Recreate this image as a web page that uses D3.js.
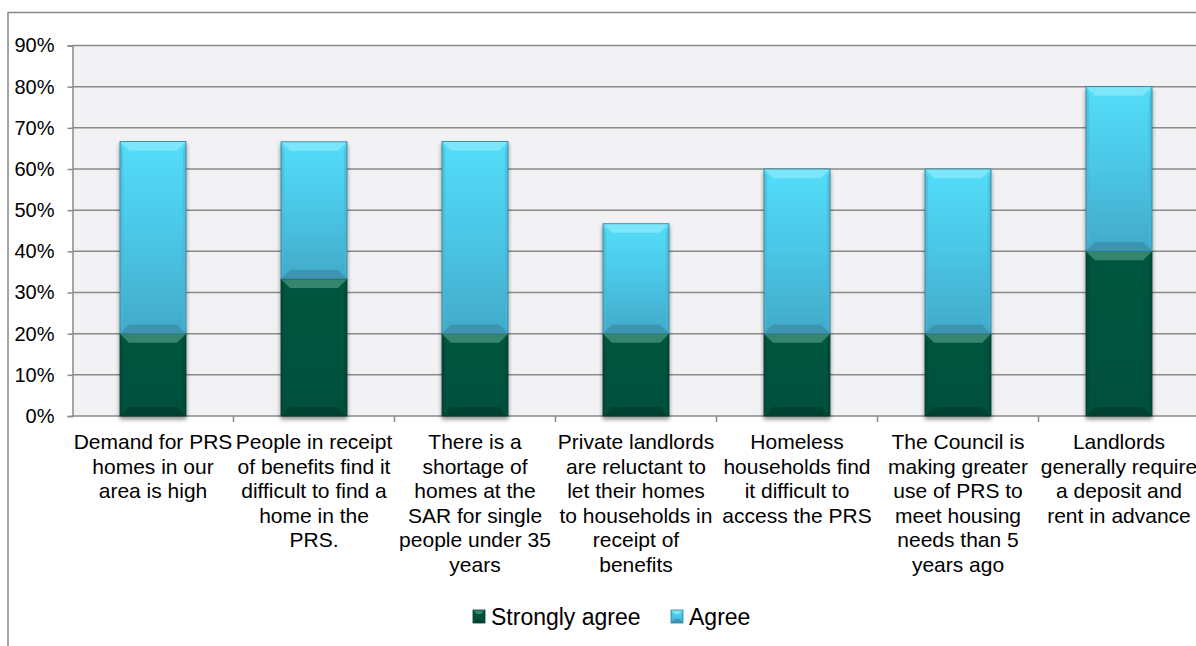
<!DOCTYPE html>
<html>
<head>
<meta charset="utf-8">
<script src="https://cdn.jsdelivr.net/npm/d3@7"></script>
<style>
  html, body { margin: 0; padding: 0; background: #ffffff; }
  svg { display: block; font-family: "Liberation Sans", Arial, sans-serif; }
</style>
</head>
<body>
<svg id="chart" width="1196" height="646"></svg>
<script>
// Survey statements (category axis), each wrapped into display lines
const categories = [
  "Demand for PRS homes in our area is high",
  "People in receipt of benefits find it difficult to find a home in the PRS.",
  "There is a shortage of homes at the SAR for single people under 35 years",
  "Private landlords are reluctant to let their homes to households in receipt of benefits",
  "Homeless households find it difficult to access the PRS",
  "The Council is making greater use of PRS to meet housing needs than 5 years ago",
  "Landlords generally require a deposit and rent in advance"
];
const categoryLines = [
  ["Demand for PRS", "homes in our", "area is high"],
  ["People in receipt", "of benefits find it", "difficult to find a", "home in the", "PRS."],
  ["There is a", "shortage of", "homes at the", "SAR for single", "people under 35", "years"],
  ["Private landlords", "are reluctant to", "let their homes", "to households in", "receipt of", "benefits"],
  ["Homeless", "households find", "it difficult to", "access the PRS"],
  ["The Council is", "making greater", "use of PRS to", "meet housing", "needs than 5", "years ago"],
  ["Landlords", "generally require", "a deposit and", "rent in advance"]
];

// Share of respondents (fraction)
const stronglyAgree = [0.200, 0.333, 0.200, 0.200, 0.200, 0.200, 0.400];
const agree         = [0.467, 0.333, 0.467, 0.267, 0.400, 0.400, 0.400];

const seriesNames = ["Strongly agree", "Agree"];
const yTicks = [0, 0.1, 0.2, 0.3, 0.4, 0.5, 0.6, 0.7, 0.8, 0.9];

const svg = d3.select("#chart");

// ---- gradients for the bevelled bar look ----
const defs = svg.append("defs");
function vGrad(id, stops) {
  const g = defs.append("linearGradient").attr("id", id)
    .attr("x1", 0).attr("y1", 0).attr("x2", 0).attr("y2", 1);
  stops.forEach(([o, c]) => g.append("stop").attr("offset", o).attr("stop-color", c));
}
vGrad("gAgree", [[0, "#53ddf9"], [0.5, "#4bc6e6"], [1, "#42a9c8"]]);
vGrad("gStrong", [[0, "#05553f"], [1, "#04503b"]]);
const shadow = defs.append("filter").attr("id", "shadow")
  .attr("x", "-20%").attr("y", "-5%").attr("width", "140%").attr("height", "115%");
shadow.append("feGaussianBlur").attr("in", "SourceAlpha").attr("stdDeviation", 2.2).attr("result", "b");
shadow.append("feOffset").attr("in", "b").attr("dx", 0).attr("dy", 2.5).attr("result", "o");
shadow.append("feComponentTransfer").attr("in", "o").attr("result", "s")
  .append("feFuncA").attr("type", "linear").attr("slope", 0.45);
const merge = shadow.append("feMerge");
merge.append("feMergeNode").attr("in", "s");
merge.append("feMergeNode").attr("in", "SourceGraphic");

const styles = [
  { fill: "url(#gStrong)", top: "#3c8c72", bottom: "#033f2f", side: "#04483a", edge: "#03392b" },
  { fill: "url(#gAgree)",  top: "#80e8fb", bottom: "#3b8fab", side: "#47b8d6", edge: "#2f7f98" }
];

// ---- chart frame ----
svg.append("rect")
  .attr("x", 8).attr("y", 12.5).attr("width", 1240).attr("height", 700)
  .attr("fill", "#ffffff").attr("stroke", "#878787").attr("stroke-width", 1.5);

const plotLeft = 72.5, plotRight = 1199.5;
const y = d3.scaleLinear().domain([0, 0.9]).range([416, 45.5]);
const x = d3.scaleBand().domain(categories).range([plotLeft, plotRight])
  .paddingInner(0.59).paddingOuter(0.295);

// plot background
svg.append("rect")
  .attr("x", plotLeft).attr("y", y(0.9))
  .attr("width", plotRight - plotLeft).attr("height", y(0) - y(0.9))
  .attr("fill", "#f2f2f4");

// horizontal gridlines
svg.append("g").selectAll("line").data(yTicks.slice(1)).join("line")
  .attr("x1", plotLeft).attr("x2", plotRight)
  .attr("y1", d => y(d)).attr("y2", d => y(d))
  .attr("stroke", "#8a8a8a").attr("stroke-width", 1.5);

// y axis
const yAxis = d3.axisLeft(y).tickValues(yTicks).tickFormat(d3.format(".0%"))
  .tickSize(5).tickPadding(13);
const gy = svg.append("g").attr("transform", `translate(${plotLeft},0)`).call(yAxis);
gy.select(".domain").attr("stroke", "#8a8a8a").attr("stroke-width", 1.5);
gy.selectAll(".tick line").attr("stroke", "#8a8a8a").attr("stroke-width", 1.5);
gy.selectAll(".tick text").attr("font-size", 20).attr("fill", "#000")
  .attr("font-family", "Liberation Sans, Arial, sans-serif");

// x axis baseline and category boundary ticks
svg.append("line").attr("x1", plotLeft).attr("x2", plotRight)
  .attr("y1", y(0)).attr("y2", y(0)).attr("stroke", "#8a8a8a").attr("stroke-width", 1.5);
const step = x.step();
svg.append("g").selectAll("line").data(d3.range(1, categories.length)).join("line")
  .attr("x1", i => plotLeft + i * step).attr("x2", i => plotLeft + i * step)
  .attr("y1", y(0)).attr("y2", y(0) + 6)
  .attr("stroke", "#8a8a8a").attr("stroke-width", 1.5);

// ---- stacked, bevelled bars ----
const stackData = categories.map((c, i) => ({ cat: c, s: stronglyAgree[i], a: agree[i] }));
const stacked = d3.stack().keys(["s", "a"])(stackData);

function bevelSegment(g, x0, y0, w, h, st, bev) {
  const x1 = x0 + w, y1 = y0 + h;
  const b = Math.min(bev, h / 2, w / 2);
  g.append("rect").attr("x", x0).attr("y", y0).attr("width", w).attr("height", h)
    .attr("fill", st.fill);
  // left / right faces
  g.append("polygon").attr("points", [[x0, y0], [x0 + b * 0.35, y0 + b], [x0 + b * 0.35, y1 - b], [x0, y1]].join(" "))
    .attr("fill", st.side).attr("opacity", 0.6);
  g.append("polygon").attr("points", [[x1, y0], [x1 - b * 0.35, y0 + b], [x1 - b * 0.35, y1 - b], [x1, y1]].join(" "))
    .attr("fill", st.side).attr("opacity", 0.6);
  // top face (lit) and bottom face (shaded)
  g.append("polygon").attr("points", [[x0, y0], [x1, y0], [x1 - b, y0 + b], [x0 + b, y0 + b]].join(" "))
    .attr("fill", st.top).attr("opacity", 0.9);
  g.append("polygon").attr("points", [[x0, y1], [x1, y1], [x1 - b, y1 - b], [x0 + b, y1 - b]].join(" "))
    .attr("fill", st.bottom).attr("opacity", 0.85);
  g.append("rect").attr("x", x0).attr("y", y0).attr("width", w).attr("height", h)
    .attr("fill", "none").attr("stroke", st.edge).attr("stroke-width", 0.8);
}

const barsG = svg.append("g");
categories.forEach((c, i) => {
  const g = barsG.append("g").attr("filter", "url(#shadow)");
  stacked.forEach((layer, k) => {
    const seg = layer[i];
    const top = y(seg[1]), bot = y(seg[0]);
    bevelSegment(g, x(c), top, x.bandwidth(), bot - top, styles[k], 9);
  });
});

// ---- category labels ----
const lineH = 24.6;
const labelG = svg.append("g").attr("font-size", 21).attr("fill", "#000").attr("text-anchor", "middle");
categories.forEach((c, i) => {
  const cx = x(c) + x.bandwidth() / 2;
  const t = labelG.append("text").attr("x", cx).attr("y", 449);
  categoryLines[i].forEach((ln, j) => {
    t.append("tspan").attr("x", cx).attr("dy", j === 0 ? 0 : lineH).text(ln);
  });
});

// ---- legend ----
const legendItems = [
  { name: seriesNames[0], x: 473, st: styles[0] },
  { name: seriesNames[1], x: 671, st: styles[1] }
];
const lg = svg.append("g");
legendItems.forEach(it => {
  const g = lg.append("g");
  bevelSegment(g, it.x, 610, 12, 13, it.st, 4);
  g.append("text").attr("x", it.x + 18).attr("y", 625)
    .attr("font-size", 23).attr("fill", "#000").text(it.name);
});
</script>
</body>
</html>
